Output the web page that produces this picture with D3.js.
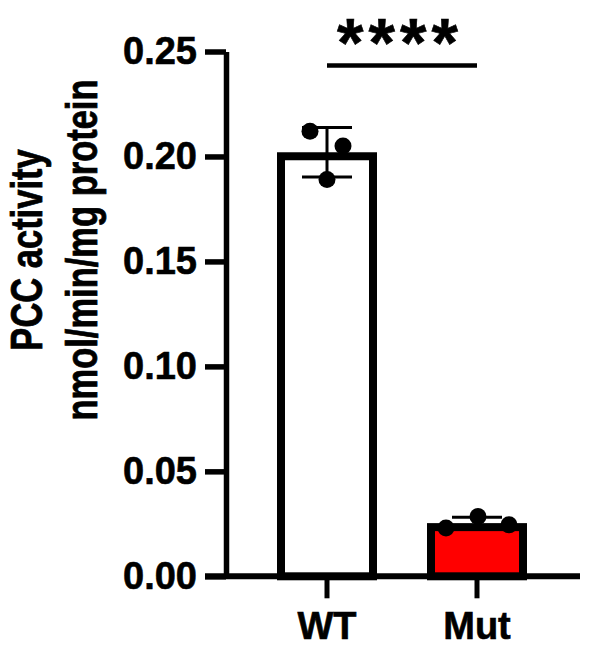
<!DOCTYPE html>
<html>
<head>
<meta charset="utf-8">
<script src="https://cdn.jsdelivr.net/npm/d3@7"></script>
<style>
  body { margin: 0; background: #fff; }
  svg { display: block; }
  text { font-family: "Liberation Sans", Arial, sans-serif; font-weight: bold; fill: #000; stroke: #000; stroke-width: 0.6px; }
</style>
</head>
<body>
<svg id="chart" width="591" height="654"></svg>
<script>
// data
var categories = ["WT", "Mut"];
var wtValues = [0.212, 0.205, 0.189];
var mutValues = [0.023, 0.0285, 0.0245];
var barColors = ["#ffffff", "#ff0000"];
var yTicks = [0, 0.05, 0.10, 0.15, 0.20, 0.25];
var yTitle = ["PCC activity", "nmol/min/mg protein"];
var sigLabel = "****";

// horizontal spread of the dots inside each bar (layout only)
var dotSpread = { WT: [-17, 16, 0], Mut: [-31, 1, 32] };

var groups = [
    { name: categories[0], values: wtValues, color: barColors[0] },
    { name: categories[1], values: mutValues, color: barColors[1] }
];
groups.forEach(function(g) {
    g.mean = d3.mean(g.values);
    g.sd = d3.deviation(g.values);
});

var svg = d3.select("#chart");
var axisX = 226;     // y axis position
var barStroke = 8;

var y = d3.scaleLinear().domain([0, 0.25]).range([576.3, 51.5]);
var x = d3.scaleBand()
    .domain(categories)
    .range([252, 552])
    .paddingInner(1 / 3)
    .paddingOuter(1 / 6);

var g = svg.append("g");

// bars: outer edge of the border sits at the mean
g.selectAll("rect.bar")
    .data(groups)
    .enter().append("rect")
    .attr("class", "bar")
    .attr("x", function(d) { return x(d.name) + barStroke / 2; })
    .attr("width", x.bandwidth() - barStroke)
    .attr("y", function(d) { return y(d.mean) + barStroke / 2; })
    .attr("height", function(d) { return y(0) - y(d.mean) - barStroke / 2; })
    .attr("fill", function(d) { return d.color; })
    .attr("stroke", "#000")
    .attr("stroke-width", barStroke);

// error bars (mean +/- SD)
var err = g.selectAll("g.err")
    .data(groups)
    .enter().append("g")
    .attr("class", "err")
    .attr("stroke", "#000")
    .attr("stroke-width", 3);

err.append("line")
    .attr("x1", function(d) { return x(d.name) + x.bandwidth() / 2; })
    .attr("x2", function(d) { return x(d.name) + x.bandwidth() / 2; })
    .attr("y1", function(d) { return y(d.mean + d.sd); })
    .attr("y2", function(d) { return y(d.mean - d.sd); });

[1, -1].forEach(function(sign) {
    err.append("line")
        .attr("x1", function(d) { return x(d.name) + x.bandwidth() / 2 - 25; })
        .attr("x2", function(d) { return x(d.name) + x.bandwidth() / 2 + 25; })
        .attr("y1", function(d) { return y(d.mean + sign * d.sd); })
        .attr("y2", function(d) { return y(d.mean + sign * d.sd); });
});

// individual points
groups.forEach(function(grp) {
    g.selectAll(null)
        .data(grp.values)
        .enter().append("circle")
        .attr("cx", function(d, i) { return x(grp.name) + x.bandwidth() / 2 + dotSpread[grp.name][i]; })
        .attr("cy", function(d) { return y(d); })
        .attr("r", 8.5)
        .attr("fill", "#000");
});

// y axis
var yAxis = g.append("g")
    .attr("transform", "translate(" + axisX + ",0)")
    .call(d3.axisLeft(y)
        .tickValues(yTicks)
        .tickFormat(d3.format(".2f"))
        .tickSize(21)
        .tickSizeOuter(0)
        .tickPadding(8));
yAxis.selectAll("path, line").attr("stroke", "#000").attr("stroke-width", 5.5);
yAxis.selectAll("text").style("font-size", "38px").attr("fill", "#000");

// x axis
var xAxis = g.append("g")
    .attr("transform", "translate(0," + y(0) + ")")
    .call(d3.axisBottom(x).tickSize(22).tickSizeOuter(0).tickPadding(14));
xAxis.select(".domain").remove();
xAxis.selectAll("line").attr("stroke", "#000").attr("stroke-width", 5);
xAxis.selectAll("text").style("font-size", "38px").attr("fill", "#000");

g.append("line")
    .attr("x1", axisX - 21)
    .attr("x2", 580)
    .attr("y1", y(0))
    .attr("y2", y(0))
    .attr("stroke", "#000")
    .attr("stroke-width", 6);

// significance bracket
var cWT = x(categories[0]) + x.bandwidth() / 2;
var cMut = x(categories[1]) + x.bandwidth() / 2;
g.append("line")
    .attr("x1", cWT)
    .attr("x2", cMut)
    .attr("y1", 65.5)
    .attr("y2", 65.5)
    .attr("stroke", "#000")
    .attr("stroke-width", 4.5);

g.append("text")
    .attr("x", (cWT + cMut) / 2 - 2)
    .attr("y", 66)
    .attr("text-anchor", "middle")
    .style("font-size", "68px")
    .style("letter-spacing", "5px")
    .text(sigLabel);

// y axis title (glyphs in the original are taller than wide, so stretch across)
var titleStretch = 1.27;
var title = g.append("text")
    .attr("transform", "translate(0,250) rotate(-90) scale(1," + titleStretch + ")")
    .attr("text-anchor", "middle")
    .style("font-size", "34.5px");
title.append("tspan").attr("x", 0).attr("y", 42 / titleStretch).text(yTitle[0]);
title.append("tspan").attr("x", 0).attr("y", 97 / titleStretch).text(yTitle[1]);
</script>
</body>
</html>
